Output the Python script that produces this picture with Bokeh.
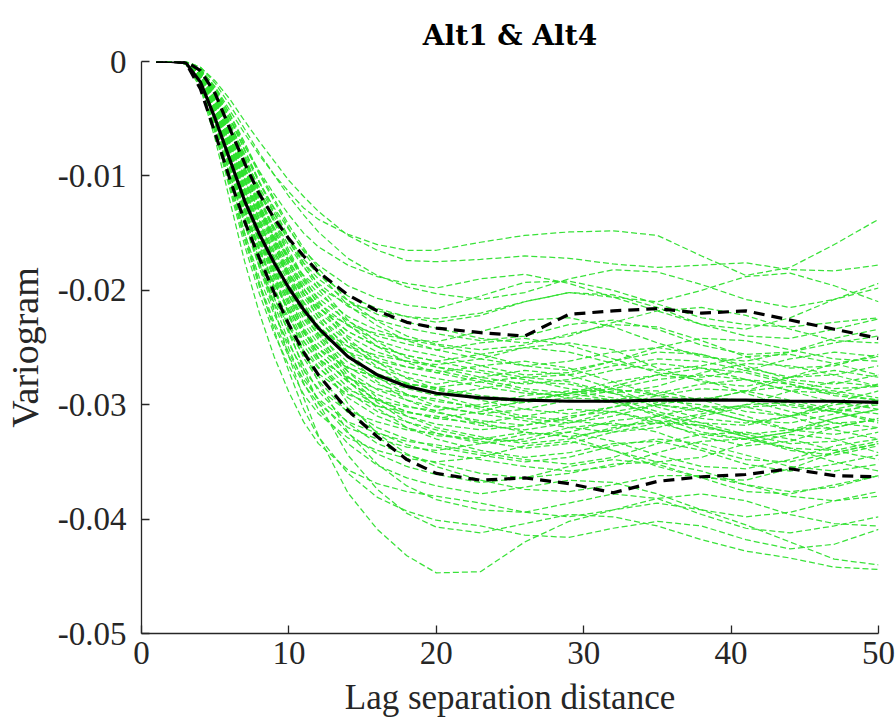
from bokeh.plotting import figure
from bokeh.models import FixedTicker, CustomJSTickFormatter, ColumnDataSource
from bokeh.embed import file_html
from bokeh.resources import INLINE

# ---------------- data ----------------
lag = [1, 2, 3, 4, 5, 6, 7, 8, 9, 10, 11, 12, 14, 16, 18, 20, 23, 26, 29, 32, 35, 38, 41, 44, 47, 50]

mean_curve = [0, 0, -0.0001, -0.0018, -0.0050, -0.0086, -0.0122, -0.0151, -0.0176, -0.0198, -0.0217, -0.0233,
              -0.0258, -0.0274, -0.0284, -0.0290, -0.0294, -0.0296, -0.0297, -0.0297, -0.0296, -0.0296, -0.0296,
              -0.0297, -0.0297, -0.0298]
upper_bound = [0, 0, 0, -0.0008, -0.0028, -0.0059, -0.0089, -0.0116, -0.0137, -0.0155, -0.0170, -0.0184,
               -0.0204, -0.0218, -0.0228, -0.0233, -0.0237, -0.0240, -0.0221, -0.0218, -0.0216, -0.0220, -0.0218,
               -0.0226, -0.0234, -0.0242]
lower_bound = [0, 0, -0.0001, -0.0024, -0.0063, -0.0103, -0.0140, -0.0172, -0.0202, -0.0230, -0.0254, -0.0274,
               -0.0305, -0.0328, -0.0348, -0.0360, -0.0366, -0.0364, -0.0369, -0.0377, -0.0367, -0.0363, -0.0361,
               -0.0356, -0.0362, -0.0363]

realizations = [
    [0, 0, 0, -0.0007, -0.0022, -0.0043, -0.0063, -0.0082, -0.0099, -0.0114, -0.0128, -0.0138, -0.0151, -0.0160, -0.0165, -0.0165, -0.0158, -0.0152, -0.0149, -0.0148, -0.0152, -0.0170, -0.0187, -0.0180, -0.0160, -0.0138],
    [0, 0, 0, -0.0005, -0.0017, -0.0033, -0.0052, -0.0070, -0.0087, -0.0104, -0.0118, -0.0131, -0.0152, -0.0165, -0.0174, -0.0175, -0.0173, -0.0170, -0.0172, -0.0177, -0.0180, -0.0178, -0.0176, -0.0182, -0.0183, -0.0178],
    [0, 0, -0.0001, -0.0008, -0.0026, -0.0050, -0.0074, -0.0096, -0.0116, -0.0134, -0.0150, -0.0162, -0.0178, -0.0188, -0.0194, -0.0198, -0.0190, -0.0186, -0.0194, -0.0206, -0.0210, -0.0200, -0.0188, -0.0185, -0.0196, -0.0210],
    [0, 0, 0, -0.0005, -0.0019, -0.0038, -0.0059, -0.0080, -0.0099, -0.0118, -0.0134, -0.0149, -0.0172, -0.0187, -0.0197, -0.0203, -0.0208, -0.0202, -0.0190, -0.0182, -0.0184, -0.0195, -0.0208, -0.0215, -0.0208, -0.0194],
    [0, 0, -0.0001, -0.0009, -0.0029, -0.0055, -0.0081, -0.0106, -0.0128, -0.0147, -0.0165, -0.0178, -0.0196, -0.0207, -0.0213, -0.0216, -0.0205, -0.0193, -0.0192, -0.0200, -0.0212, -0.0224, -0.0230, -0.0232, -0.0228, -0.0224],
    [0, 0, -0.0001, -0.0014, -0.0041, -0.0072, -0.0104, -0.0131, -0.0153, -0.0171, -0.0187, -0.0198, -0.0212, -0.0218, -0.0223, -0.0225, -0.0220, -0.0210, -0.0202, -0.0204, -0.0215, -0.0230, -0.0240, -0.0242, -0.0234, -0.0225],
    [0, 0, -0.0001, -0.0009, -0.0031, -0.0059, -0.0087, -0.0113, -0.0136, -0.0157, -0.0176, -0.0190, -0.0209, -0.0221, -0.0228, -0.0233, -0.0242, -0.0246, -0.0240, -0.0228, -0.0218, -0.0215, -0.0222, -0.0234, -0.0244, -0.0246],
    [0, 0, -0.0001, -0.0015, -0.0044, -0.0078, -0.0113, -0.0142, -0.0167, -0.0186, -0.0203, -0.0216, -0.0230, -0.0238, -0.0243, -0.0245, -0.0236, -0.0226, -0.0224, -0.0232, -0.0246, -0.0258, -0.0262, -0.0254, -0.0242, -0.0234],
    [0, 0, -0.0001, -0.0010, -0.0033, -0.0063, -0.0093, -0.0120, -0.0145, -0.0168, -0.0188, -0.0203, -0.0223, -0.0235, -0.0243, -0.0248, -0.0256, -0.0266, -0.0270, -0.0262, -0.0250, -0.0242, -0.0244, -0.0252, -0.0260, -0.0262],
    [0, 0, -0.0001, -0.0006, -0.0023, -0.0046, -0.0071, -0.0097, -0.0120, -0.0143, -0.0163, -0.0181, -0.0209, -0.0227, -0.0240, -0.0247, -0.0252, -0.0248, -0.0238, -0.0230, -0.0232, -0.0244, -0.0258, -0.0268, -0.0266, -0.0256],
    [0, 0, -0.0001, -0.0010, -0.0034, -0.0065, -0.0096, -0.0125, -0.0151, -0.0174, -0.0195, -0.0211, -0.0231, -0.0244, -0.0252, -0.0257, -0.0266, -0.0274, -0.0272, -0.0262, -0.0254, -0.0256, -0.0266, -0.0278, -0.0282, -0.0274],
    [0, 0, -0.0001, -0.0016, -0.0048, -0.0085, -0.0122, -0.0154, -0.0180, -0.0201, -0.0220, -0.0233, -0.0249, -0.0257, -0.0262, -0.0265, -0.0260, -0.0250, -0.0246, -0.0252, -0.0268, -0.0280, -0.0284, -0.0276, -0.0264, -0.0258],
    [0, 0, -0.0001, -0.0011, -0.0035, -0.0068, -0.0100, -0.0130, -0.0157, -0.0181, -0.0203, -0.0219, -0.0240, -0.0254, -0.0262, -0.0267, -0.0272, -0.0278, -0.0286, -0.0290, -0.0284, -0.0272, -0.0264, -0.0266, -0.0274, -0.0284],
    [0, 0, -0.0001, -0.0007, -0.0025, -0.0050, -0.0077, -0.0105, -0.0129, -0.0154, -0.0176, -0.0195, -0.0226, -0.0245, -0.0259, -0.0267, -0.0276, -0.0282, -0.0278, -0.0270, -0.0264, -0.0268, -0.0278, -0.0288, -0.0290, -0.0282],
    [0, 0, -0.0001, -0.0011, -0.0036, -0.0070, -0.0104, -0.0134, -0.0162, -0.0188, -0.0210, -0.0227, -0.0249, -0.0263, -0.0272, -0.0277, -0.0284, -0.0290, -0.0292, -0.0286, -0.0278, -0.0274, -0.0278, -0.0288, -0.0298, -0.0304],
    [0, 0, -0.0001, -0.0017, -0.0051, -0.0091, -0.0131, -0.0165, -0.0194, -0.0217, -0.0237, -0.0251, -0.0268, -0.0276, -0.0282, -0.0285, -0.0292, -0.0296, -0.0290, -0.0280, -0.0274, -0.0278, -0.0290, -0.0302, -0.0306, -0.0300],
    [0, 0, -0.0001, -0.0012, -0.0038, -0.0073, -0.0107, -0.0139, -0.0168, -0.0194, -0.0218, -0.0235, -0.0258, -0.0273, -0.0281, -0.0287, -0.0296, -0.0304, -0.0308, -0.0302, -0.0292, -0.0286, -0.0288, -0.0296, -0.0304, -0.0308],
    [0, 0, -0.0001, -0.0007, -0.0027, -0.0053, -0.0083, -0.0112, -0.0139, -0.0165, -0.0189, -0.0209, -0.0242, -0.0263, -0.0277, -0.0286, -0.0294, -0.0298, -0.0294, -0.0288, -0.0288, -0.0296, -0.0306, -0.0310, -0.0304, -0.0296],
    [0, 0, -0.0001, -0.0012, -0.0039, -0.0075, -0.0111, -0.0144, -0.0174, -0.0201, -0.0225, -0.0243, -0.0267, -0.0282, -0.0291, -0.0297, -0.0302, -0.0298, -0.0290, -0.0286, -0.0292, -0.0304, -0.0314, -0.0316, -0.0308, -0.0298],
    [0, 0, -0.0002, -0.0018, -0.0055, -0.0098, -0.0140, -0.0177, -0.0207, -0.0232, -0.0253, -0.0268, -0.0287, -0.0296, -0.0302, -0.0305, -0.0300, -0.0292, -0.0288, -0.0294, -0.0306, -0.0316, -0.0318, -0.0310, -0.0300, -0.0296],
    [0, 0, -0.0001, -0.0012, -0.0040, -0.0078, -0.0115, -0.0149, -0.0180, -0.0208, -0.0233, -0.0251, -0.0276, -0.0291, -0.0301, -0.0307, -0.0314, -0.0318, -0.0312, -0.0302, -0.0296, -0.0300, -0.0310, -0.0322, -0.0326, -0.0320],
    [0, 0, -0.0001, -0.0008, -0.0028, -0.0057, -0.0088, -0.0120, -0.0148, -0.0176, -0.0202, -0.0224, -0.0258, -0.0280, -0.0296, -0.0306, -0.0316, -0.0324, -0.0328, -0.0322, -0.0310, -0.0302, -0.0302, -0.0310, -0.0322, -0.0330],
    [0, 0, -0.0001, -0.0013, -0.0042, -0.0080, -0.0118, -0.0154, -0.0186, -0.0214, -0.0240, -0.0259, -0.0285, -0.0301, -0.0310, -0.0317, -0.0322, -0.0318, -0.0310, -0.0306, -0.0314, -0.0328, -0.0336, -0.0332, -0.0320, -0.0312],
    [0, 0, -0.0002, -0.0020, -0.0059, -0.0104, -0.0150, -0.0189, -0.0221, -0.0247, -0.0270, -0.0286, -0.0306, -0.0315, -0.0322, -0.0325, -0.0332, -0.0338, -0.0334, -0.0324, -0.0316, -0.0318, -0.0328, -0.0340, -0.0344, -0.0336],
    [0, 0, -0.0001, -0.0013, -0.0043, -0.0083, -0.0122, -0.0158, -0.0191, -0.0221, -0.0248, -0.0267, -0.0294, -0.0310, -0.0320, -0.0327, -0.0330, -0.0324, -0.0328, -0.0340, -0.0350, -0.0346, -0.0334, -0.0326, -0.0330, -0.0342],
    [0, 0, -0.0001, -0.0009, -0.0031, -0.0061, -0.0095, -0.0129, -0.0160, -0.0190, -0.0218, -0.0241, -0.0279, -0.0303, -0.0320, -0.0330, -0.0340, -0.0346, -0.0342, -0.0334, -0.0332, -0.0340, -0.0352, -0.0358, -0.0352, -0.0344],
    [0, 0, -0.0001, -0.0014, -0.0045, -0.0086, -0.0128, -0.0166, -0.0200, -0.0231, -0.0259, -0.0279, -0.0307, -0.0324, -0.0335, -0.0342, -0.0348, -0.0354, -0.0358, -0.0354, -0.0342, -0.0332, -0.0330, -0.0338, -0.0350, -0.0358],
    [0, 0, -0.0002, -0.0021, -0.0063, -0.0112, -0.0161, -0.0203, -0.0238, -0.0266, -0.0291, -0.0308, -0.0329, -0.0340, -0.0347, -0.0350, -0.0346, -0.0336, -0.0332, -0.0340, -0.0354, -0.0364, -0.0366, -0.0356, -0.0342, -0.0334],
    [0, 0, -0.0001, -0.0014, -0.0046, -0.0089, -0.0131, -0.0170, -0.0206, -0.0238, -0.0266, -0.0288, -0.0316, -0.0334, -0.0344, -0.0351, -0.0360, -0.0364, -0.0360, -0.0352, -0.0350, -0.0358, -0.0370, -0.0376, -0.0372, -0.0362],
    [0, 0, -0.0001, -0.0009, -0.0033, -0.0066, -0.0102, -0.0139, -0.0172, -0.0204, -0.0234, -0.0259, -0.0299, -0.0325, -0.0343, -0.0354, -0.0366, -0.0374, -0.0376, -0.0370, -0.0362, -0.0362, -0.0370, -0.0380, -0.0384, -0.0380],
    [0, 0, -0.0001, -0.0015, -0.0049, -0.0094, -0.0139, -0.0180, -0.0218, -0.0251, -0.0281, -0.0304, -0.0334, -0.0353, -0.0364, -0.0371, -0.0378, -0.0372, -0.0366, -0.0368, -0.0378, -0.0392, -0.0398, -0.0394, -0.0384, -0.0376],
    [0, 0, -0.0002, -0.0023, -0.0068, -0.0122, -0.0175, -0.0220, -0.0258, -0.0289, -0.0315, -0.0334, -0.0357, -0.0369, -0.0376, -0.0380, -0.0386, -0.0394, -0.0398, -0.0392, -0.0382, -0.0378, -0.0384, -0.0396, -0.0404, -0.0406],
    [0, 0, -0.0001, -0.0010, -0.0036, -0.0071, -0.0111, -0.0150, -0.0186, -0.0221, -0.0253, -0.0280, -0.0324, -0.0352, -0.0371, -0.0383, -0.0392, -0.0394, -0.0386, -0.0378, -0.0382, -0.0396, -0.0408, -0.0412, -0.0406, -0.0398],
    [0, 0, -0.0001, -0.0016, -0.0053, -0.0101, -0.0150, -0.0194, -0.0235, -0.0271, -0.0304, -0.0328, -0.0360, -0.0381, -0.0393, -0.0401, -0.0406, -0.0414, -0.0416, -0.0408, -0.0402, -0.0406, -0.0418, -0.0426, -0.0422, -0.0409],
    [0, 0, -0.0001, -0.0012, -0.0041, -0.0083, -0.0129, -0.0175, -0.0216, -0.0258, -0.0294, -0.0327, -0.0377, -0.0409, -0.0432, -0.0447, -0.0446, -0.0420, -0.0402, -0.0392, -0.0386, -0.0392, -0.0405, -0.0420, -0.0435, -0.0440],
    [0, 0, -0.0001, -0.0011, -0.0036, -0.0069, -0.0102, -0.0132, -0.0160, -0.0184, -0.0206, -0.0223, -0.0245, -0.0259, -0.0267, -0.0272, -0.0266, -0.0262, -0.0268, -0.0280, -0.0292, -0.0296, -0.0288, -0.0276, -0.0270, -0.0276],
    [0, 0, -0.0001, -0.0018, -0.0053, -0.0094, -0.0136, -0.0171, -0.0201, -0.0224, -0.0245, -0.0260, -0.0277, -0.0286, -0.0292, -0.0295, -0.0304, -0.0312, -0.0316, -0.0310, -0.0300, -0.0294, -0.0296, -0.0306, -0.0316, -0.0320],
    [0, 0, -0.0001, -0.0013, -0.0041, -0.0079, -0.0117, -0.0151, -0.0183, -0.0211, -0.0236, -0.0255, -0.0280, -0.0296, -0.0306, -0.0312, -0.0306, -0.0296, -0.0290, -0.0296, -0.0310, -0.0324, -0.0330, -0.0324, -0.0312, -0.0304],
    [0, 0, -0.0001, -0.0008, -0.0030, -0.0059, -0.0092, -0.0125, -0.0155, -0.0185, -0.0211, -0.0234, -0.0271, -0.0294, -0.0310, -0.0320, -0.0328, -0.0334, -0.0330, -0.0320, -0.0314, -0.0318, -0.0328, -0.0338, -0.0340, -0.0332],
    [0, 0, -0.0001, -0.0011, -0.0034, -0.0066, -0.0098, -0.0127, -0.0154, -0.0178, -0.0199, -0.0215, -0.0236, -0.0249, -0.0257, -0.0262, -0.0270, -0.0276, -0.0274, -0.0266, -0.0260, -0.0262, -0.0270, -0.0280, -0.0286, -0.0284],
    [0, 0, -0.0002, -0.0020, -0.0061, -0.0109, -0.0156, -0.0197, -0.0231, -0.0258, -0.0282, -0.0299, -0.0320, -0.0330, -0.0337, -0.0340, -0.0334, -0.0326, -0.0324, -0.0332, -0.0344, -0.0354, -0.0356, -0.0348, -0.0336, -0.0330],
    [0, 0, -0.0001, -0.0010, -0.0031, -0.0060, -0.0089, -0.0115, -0.0139, -0.0161, -0.0180, -0.0194, -0.0214, -0.0226, -0.0233, -0.0238, -0.0244, -0.0240, -0.0230, -0.0226, -0.0234, -0.0248, -0.0256, -0.0254, -0.0246, -0.0240],
    [0, 0, -0.0001, -0.0008, -0.0027, -0.0054, -0.0084, -0.0114, -0.0141, -0.0168, -0.0192, -0.0213, -0.0246, -0.0267, -0.0282, -0.0291, -0.0302, -0.0310, -0.0314, -0.0318, -0.0316, -0.0308, -0.0300, -0.0298, -0.0306, -0.0314],
    [0, 0, -0.0001, -0.0015, -0.0047, -0.0091, -0.0135, -0.0175, -0.0212, -0.0245, -0.0274, -0.0296, -0.0325, -0.0343, -0.0354, -0.0361, -0.0368, -0.0364, -0.0354, -0.0348, -0.0352, -0.0364, -0.0376, -0.0378, -0.0370, -0.0362],
    [0, 0, -0.0001, -0.0011, -0.0038, -0.0076, -0.0118, -0.0160, -0.0197, -0.0235, -0.0269, -0.0298, -0.0344, -0.0374, -0.0395, -0.0407, -0.0412, -0.0404, -0.0396, -0.0398, -0.0406, -0.0418, -0.0428, -0.0434, -0.0442, -0.0444],
    [0, 0, -0.0001, -0.0009, -0.0030, -0.0058, -0.0085, -0.0110, -0.0133, -0.0154, -0.0173, -0.0186, -0.0205, -0.0216, -0.0223, -0.0228, -0.0222, -0.0210, -0.0202, -0.0206, -0.0218, -0.0230, -0.0234, -0.0224, -0.0208, -0.0198],
    [0, 0, -0.0001, -0.0011, -0.0037, -0.0071, -0.0105, -0.0137, -0.0165, -0.0191, -0.0214, -0.0231, -0.0254, -0.0268, -0.0276, -0.0282, -0.0276, -0.0270, -0.0274, -0.0286, -0.0300, -0.0306, -0.0300, -0.0288, -0.0280, -0.0284],
    [0, 0, -0.0002, -0.0019, -0.0056, -0.0099, -0.0143, -0.0180, -0.0211, -0.0236, -0.0257, -0.0273, -0.0291, -0.0301, -0.0307, -0.0310, -0.0318, -0.0322, -0.0316, -0.0306, -0.0300, -0.0304, -0.0314, -0.0322, -0.0320, -0.0312],
    [0, 0, -0.0001, -0.0007, -0.0025, -0.0050, -0.0078, -0.0106, -0.0132, -0.0157, -0.0179, -0.0199, -0.0230, -0.0249, -0.0263, -0.0272, -0.0280, -0.0288, -0.0294, -0.0296, -0.0290, -0.0282, -0.0278, -0.0282, -0.0290, -0.0296],
    [0, 0, -0.0001, -0.0013, -0.0042, -0.0081, -0.0120, -0.0156, -0.0189, -0.0218, -0.0244, -0.0263, -0.0289, -0.0306, -0.0315, -0.0322, -0.0330, -0.0332, -0.0324, -0.0314, -0.0310, -0.0316, -0.0326, -0.0334, -0.0332, -0.0324],
    [0, 0, -0.0001, -0.0010, -0.0033, -0.0064, -0.0094, -0.0122, -0.0148, -0.0171, -0.0191, -0.0207, -0.0227, -0.0240, -0.0247, -0.0252, -0.0246, -0.0242, -0.0248, -0.0260, -0.0272, -0.0276, -0.0270, -0.0260, -0.0254, -0.0258],
    [0, 0, -0.0001, -0.0016, -0.0049, -0.0086, -0.0124, -0.0157, -0.0184, -0.0205, -0.0224, -0.0238, -0.0254, -0.0262, -0.0267, -0.0270, -0.0278, -0.0286, -0.0290, -0.0284, -0.0274, -0.0268, -0.0272, -0.0282, -0.0292, -0.0296],
    [0, 0, -0.0001, -0.0012, -0.0040, -0.0076, -0.0113, -0.0146, -0.0177, -0.0204, -0.0229, -0.0247, -0.0271, -0.0287, -0.0296, -0.0302, -0.0308, -0.0314, -0.0320, -0.0324, -0.0320, -0.0310, -0.0302, -0.0300, -0.0306, -0.0316],
    [0, 0, -0.0001, -0.0008, -0.0030, -0.0060, -0.0094, -0.0127, -0.0157, -0.0188, -0.0214, -0.0238, -0.0275, -0.0298, -0.0315, -0.0325, -0.0334, -0.0330, -0.0320, -0.0316, -0.0324, -0.0338, -0.0348, -0.0350, -0.0342, -0.0334],
    [0, 0, -0.0001, -0.0012, -0.0038, -0.0074, -0.0109, -0.0142, -0.0171, -0.0198, -0.0221, -0.0239, -0.0263, -0.0277, -0.0286, -0.0292, -0.0286, -0.0280, -0.0282, -0.0290, -0.0302, -0.0312, -0.0316, -0.0310, -0.0298, -0.0288],
    [0, 0, -0.0002, -0.0020, -0.0060, -0.0107, -0.0154, -0.0194, -0.0228, -0.0255, -0.0278, -0.0295, -0.0315, -0.0325, -0.0332, -0.0335, -0.0342, -0.0348, -0.0352, -0.0346, -0.0334, -0.0326, -0.0324, -0.0330, -0.0340, -0.0348],
    [0, 0, -0.0001, -0.0011, -0.0034, -0.0066, -0.0098, -0.0127, -0.0154, -0.0178, -0.0199, -0.0215, -0.0236, -0.0249, -0.0257, -0.0262, -0.0256, -0.0250, -0.0254, -0.0264, -0.0270, -0.0266, -0.0258, -0.0256, -0.0264, -0.0274],
    [0, 0, -0.0001, -0.0008, -0.0028, -0.0056, -0.0087, -0.0118, -0.0146, -0.0174, -0.0198, -0.0220, -0.0254, -0.0276, -0.0291, -0.0301, -0.0308, -0.0304, -0.0296, -0.0298, -0.0308, -0.0320, -0.0326, -0.0322, -0.0312, -0.0304],
    [0, 0, -0.0001, -0.0014, -0.0044, -0.0085, -0.0126, -0.0163, -0.0197, -0.0228, -0.0255, -0.0275, -0.0303, -0.0320, -0.0330, -0.0337, -0.0344, -0.0350, -0.0346, -0.0336, -0.0330, -0.0334, -0.0344, -0.0354, -0.0358, -0.0352],
    [0, 0, -0.0001, -0.0017, -0.0051, -0.0091, -0.0131, -0.0165, -0.0194, -0.0217, -0.0237, -0.0251, -0.0268, -0.0276, -0.0282, -0.0285, -0.0280, -0.0276, -0.0280, -0.0290, -0.0298, -0.0296, -0.0288, -0.0284, -0.0288, -0.0294],
    [0, 0, -0.0001, -0.0013, -0.0041, -0.0079, -0.0117, -0.0151, -0.0183, -0.0211, -0.0236, -0.0255, -0.0280, -0.0296, -0.0306, -0.0312, -0.0316, -0.0310, -0.0304, -0.0306, -0.0316, -0.0326, -0.0330, -0.0324, -0.0316, -0.0314],
    [0, 0, -0.0001, -0.0007, -0.0023, -0.0047, -0.0073, -0.0099, -0.0122, -0.0146, -0.0166, -0.0185, -0.0213, -0.0231, -0.0244, -0.0252, -0.0260, -0.0266, -0.0262, -0.0254, -0.0250, -0.0256, -0.0268, -0.0276, -0.0274, -0.0266],
]

x_ticks = [0, 10, 20, 30, 40, 50]
y_ticks = [-0.05, -0.04, -0.03, -0.02, -0.01, 0]
y_tick_labels = ["-0.05", "-0.04", "-0.03", "-0.02", "-0.01", "0"]

title_text = "Alt1 & Alt4"
x_label = "Lag separation distance"
y_label = "Variogram"

# ---------------- figure ----------------
SERIF = "'Liberation Serif', 'Times New Roman', serif"

p = figure(width=896, height=723, x_range=(0, 50), y_range=(-0.05, 0),
           output_backend="svg", toolbar_location=None,
           min_border_left=138, min_border_right=18, min_border_top=61, min_border_bottom=90)

p.title.text = title_text
p.title.align = "center"
p.title.text_font = "'DejaVu Serif', serif"
p.title.text_font_size = "28px"
p.title.text_font_style = "bold"
p.title.text_color = "black"
p.title.standoff = 19

p.outline_line_color = None
p.xgrid.grid_line_color = None
p.ygrid.grid_line_color = None
p.background_fill_color = "white"
p.border_fill_color = "white"

green_src = ColumnDataSource(dict(xs=[lag] * len(realizations), ys=realizations))
p.multi_line(xs="xs", ys="ys", source=green_src, line_color="#2ee02e", line_width=1.25,
             line_dash="6 3", line_alpha=0.95)

p.line(lag, upper_bound, line_color="black", line_width=3.2, line_dash="11 7")
p.line(lag, lower_bound, line_color="black", line_width=3.2, line_dash="11 7")
p.line(lag, mean_curve, line_color="black", line_width=3.2)

for ax in (p.xaxis[0], p.yaxis[0]):
    ax.axis_line_color = "#262626"
    ax.axis_line_width = 1.3
    ax.major_tick_line_color = "#262626"
    ax.major_tick_line_width = 1.3
    ax.major_tick_in = 8
    ax.major_tick_out = 0
    ax.minor_tick_line_color = None
    ax.major_label_text_font = SERIF
    ax.major_label_text_font_size = "33px"
    ax.major_label_text_color = "#262626"
    ax.axis_label_text_font = SERIF
    ax.axis_label_text_font_style = "normal"
    ax.axis_label_text_color = "#262626"

p.xaxis.axis_label_text_font_size = "35px"
p.yaxis.axis_label_text_font_size = "38px"

p.xaxis.ticker = FixedTicker(ticks=x_ticks)
p.yaxis.ticker = FixedTicker(ticks=y_ticks)
p.yaxis.formatter = CustomJSTickFormatter(
    args=dict(vals=y_ticks, labels=y_tick_labels),
    code="for (let i = 0; i < vals.length; i++) { if (Math.abs(vals[i] - tick) < 1e-9) return labels[i]; } return '';")

p.xaxis.axis_label = x_label
p.yaxis.axis_label = y_label
p.xaxis.major_label_standoff = 8
p.yaxis.major_label_standoff = 15
p.xaxis.axis_label_standoff = 11
p.yaxis.axis_label_standoff = 9

open("out.html", "w").write(file_html(p, INLINE))
